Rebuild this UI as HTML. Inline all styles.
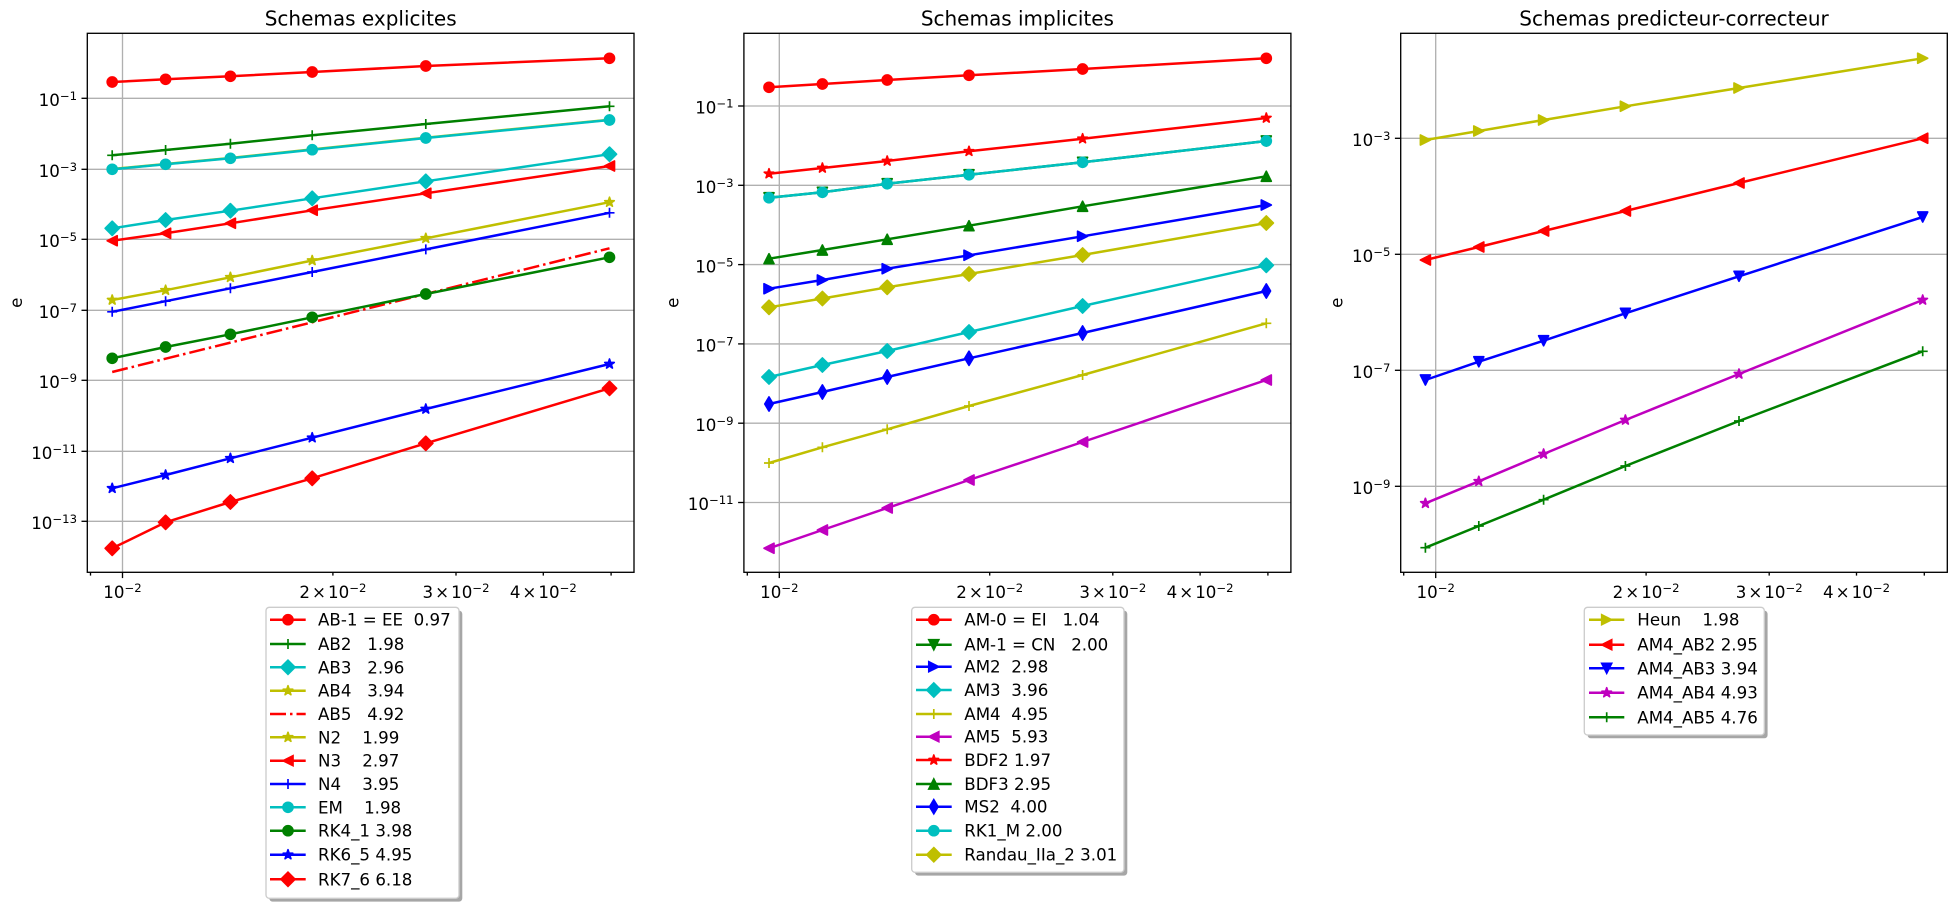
<!DOCTYPE html>
<html>
<head>
<meta charset="utf-8">
<style>
html,body{margin:0;padding:0;background:#fff;}
svg{display:block;}
text{font-family:"DejaVu Sans","Liberation Sans",sans-serif;fill:#000;}
.lg{white-space:pre;}
</style>
</head>
<body>
<svg width="1957" height="906" viewBox="0 0 1957 906" xmlns="http://www.w3.org/2000/svg">
<defs>
  <circle id="o" cx="0" cy="0" r="5"/>
  <path id="p" d="M-5,0H5M0,-5V5" fill="none"/>
  <path id="D" d="M0,-7.07L7.07,0L0,7.07L-7.07,0Z"/>
  <path id="d" d="M0,-7.07L4.24,0L0,7.07L-4.24,0Z"/>
  <path id="tu" d="M0,-5L-5,5L5,5Z"/>
  <path id="td" d="M0,5L-5,-5L5,-5Z"/>
  <path id="tl" d="M-5,0L5,-5L5,5Z"/>
  <path id="tr" d="M5,0L-5,-5L-5,5Z"/>
  <path id="st" stroke-linejoin="round" d="M0,-5L1.123,-1.545L4.755,-1.545L1.817,0.59L2.939,4.045L0,1.91L-2.939,4.045L-1.817,0.59L-4.755,-1.545L-1.123,-1.545Z"/>
</defs>
<rect x="0" y="0" width="1957" height="906" fill="#fff"/>

<!-- ================= PLOT 1 ================= -->
<g>
  <text x="360.7" y="25.3" font-size="20" text-anchor="middle">Schemas explicites</text>
  <g stroke="#b0b0b0" stroke-width="1.33">
    <line x1="87.3" x2="634" y1="98.3" y2="98.3"/>
    <line x1="87.3" x2="634" y1="169.3" y2="169.3"/>
    <line x1="87.3" x2="634" y1="239.3" y2="239.3"/>
    <line x1="87.3" x2="634" y1="310.3" y2="310.3"/>
    <line x1="87.3" x2="634" y1="380.3" y2="380.3"/>
    <line x1="87.3" x2="634" y1="451.3" y2="451.3"/>
    <line x1="87.3" x2="634" y1="521.3" y2="521.3"/>
    <line x1="122.5" x2="122.5" y1="33.3" y2="572.3"/>
  </g>
  <g fill="none" stroke-width="2.5" stroke-linejoin="round">
    <g stroke="#ff0000" fill="#ff0000"><polyline fill="none" points="112.2,82 165.6,79.3 230.4,76.3 312.2,72 425.8,66 609.5,58.3"/>
      <g stroke-width="1.67"><use href="#o" x="112.2" y="82"/><use href="#o" x="165.6" y="79.3"/><use href="#o" x="230.4" y="76.3"/><use href="#o" x="312.2" y="72"/><use href="#o" x="425.8" y="66"/><use href="#o" x="609.5" y="58.3"/></g></g>
    <g stroke="#008000" fill="#008000"><polyline fill="none" points="112.2,155.3 165.6,150 230.4,143.7 312.2,135.3 425.8,124 609.5,106.3"/>
      <g stroke-width="1.67"><use href="#p" x="112.2" y="155.3"/><use href="#p" x="165.6" y="150"/><use href="#p" x="230.4" y="143.7"/><use href="#p" x="312.2" y="135.3"/><use href="#p" x="425.8" y="124"/><use href="#p" x="609.5" y="106.3"/></g></g>
    <g stroke="#00bfbf" fill="#00bfbf"><polyline fill="none" points="112.2,228.3 165.6,220 230.4,210.7 312.2,198.3 425.8,181.3 609.5,154.2"/>
      <g stroke-width="1.67"><use href="#D" x="112.2" y="228.3"/><use href="#D" x="165.6" y="220"/><use href="#D" x="230.4" y="210.7"/><use href="#D" x="312.2" y="198.3"/><use href="#D" x="425.8" y="181.3"/><use href="#D" x="609.5" y="154.2"/></g></g>
    <g stroke="#bfbf00" fill="#bfbf00"><polyline fill="none" points="112.2,300 165.6,290.2 230.4,277.3 312.2,260.5 425.8,238.3 609.5,202.2"/>
      <g stroke-width="1.67"><use href="#st" x="112.2" y="300"/><use href="#st" x="165.6" y="290.2"/><use href="#st" x="230.4" y="277.3"/><use href="#st" x="312.2" y="260.5"/><use href="#st" x="425.8" y="238.3"/><use href="#st" x="609.5" y="202.2"/></g></g>
    <g stroke="#ff0000"><polyline fill="none" stroke-dasharray="16,4,2.5,4" stroke-linecap="butt" points="112.2,372 165.6,358.7 230.4,342.6 312.2,322.3 425.8,294 609.5,248.3"/></g>
    <g stroke="#bfbf00" fill="#bfbf00"><polyline fill="none" points="112.2,169 165.6,164 230.4,158 312.2,149.4 425.8,137.7 609.5,119.7"/>
      <g stroke-width="1.67"><use href="#st" x="112.2" y="169.3"/><use href="#st" x="165.6" y="164.3"/><use href="#st" x="230.4" y="158.3"/><use href="#st" x="312.2" y="149.7"/><use href="#st" x="425.8" y="138"/><use href="#st" x="609.5" y="120"/></g></g>
    <g stroke="#ff0000" fill="#ff0000"><polyline fill="none" points="112.2,240.7 165.6,233.3 230.4,223.3 312.2,210.3 425.8,193.3 609.5,166"/>
      <g stroke-width="1.67"><use href="#tl" x="112.2" y="240.7"/><use href="#tl" x="165.6" y="233.3"/><use href="#tl" x="230.4" y="223.3"/><use href="#tl" x="312.2" y="210.3"/><use href="#tl" x="425.8" y="193.3"/><use href="#tl" x="609.5" y="166"/></g></g>
    <g stroke="#0000ff" fill="#0000ff"><polyline fill="none" points="112.2,311.8 165.6,301.2 230.4,288.3 312.2,272 425.8,249.4 609.5,212.8"/>
      <g stroke-width="1.67"><use href="#p" x="112.2" y="311.8"/><use href="#p" x="165.6" y="301.2"/><use href="#p" x="230.4" y="288.3"/><use href="#p" x="312.2" y="272"/><use href="#p" x="425.8" y="249.4"/><use href="#p" x="609.5" y="212.8"/></g></g>
    <g stroke="#00bfbf" fill="#00bfbf"><polyline fill="none" points="112.2,169.3 165.6,164.3 230.4,158.3 312.2,149.7 425.8,138 609.5,120"/>
      <g stroke-width="1.67"><use href="#o" x="112.2" y="169.3"/><use href="#o" x="165.6" y="164.3"/><use href="#o" x="230.4" y="158.3"/><use href="#o" x="312.2" y="149.7"/><use href="#o" x="425.8" y="138"/><use href="#o" x="609.5" y="120"/></g></g>
    <g stroke="#008000" fill="#008000"><polyline fill="none" points="112.2,358.3 165.6,347 230.4,334.3 312.2,317.3 425.8,294 609.5,257.3"/>
      <g stroke-width="1.67"><use href="#o" x="112.2" y="358.3"/><use href="#o" x="165.6" y="347"/><use href="#o" x="230.4" y="334.3"/><use href="#o" x="312.2" y="317.3"/><use href="#o" x="425.8" y="294"/><use href="#o" x="609.5" y="257.3"/></g></g>
    <g stroke="#0000ff" fill="#0000ff"><polyline fill="none" points="112.2,488.3 165.6,475 230.4,458.3 312.2,437.7 425.8,409 609.5,364"/>
      <g stroke-width="1.67"><use href="#st" x="112.2" y="488.3"/><use href="#st" x="165.6" y="475"/><use href="#st" x="230.4" y="458.3"/><use href="#st" x="312.2" y="437.7"/><use href="#st" x="425.8" y="409"/><use href="#st" x="609.5" y="364"/></g></g>
    <g stroke="#ff0000" fill="#ff0000"><polyline fill="none" points="112.2,548.3 165.6,522.3 230.4,502 312.2,478.3 425.8,443.3 609.5,388.3"/>
      <g stroke-width="1.67"><use href="#D" x="112.2" y="548.3"/><use href="#D" x="165.6" y="522.3"/><use href="#D" x="230.4" y="502"/><use href="#D" x="312.2" y="478.3"/><use href="#D" x="425.8" y="443.3"/><use href="#D" x="609.5" y="388.3"/></g></g>
  </g>
  <rect x="87.3" y="33.3" width="546.7" height="539" fill="none" stroke="#000" stroke-width="1.33"/>
  <g stroke="#000" stroke-width="1.33">
    <line x1="81.5" x2="87.3" y1="98.3" y2="98.3"/><line x1="81.5" x2="87.3" y1="169.3" y2="169.3"/><line x1="81.5" x2="87.3" y1="239.3" y2="239.3"/><line x1="81.5" x2="87.3" y1="310.3" y2="310.3"/><line x1="81.5" x2="87.3" y1="380.3" y2="380.3"/><line x1="81.5" x2="87.3" y1="451.3" y2="451.3"/><line x1="81.5" x2="87.3" y1="521.3" y2="521.3"/>
    <line x1="122.5" x2="122.5" y1="572.3" y2="578.1"/>
    <line x1="90.5" x2="90.5" y1="572.3" y2="575.6"/><line x1="332.9" x2="332.9" y1="572.3" y2="575.6"/><line x1="456" x2="456" y1="572.3" y2="575.6"/><line x1="543.3" x2="543.3" y1="572.3" y2="575.6"/><line x1="611.1" x2="611.1" y1="572.3" y2="575.6"/>
  </g>
  <g font-size="16.67" text-anchor="end">
    <text x="77" y="106">10<tspan dy="-6" font-size="11.67">−1</tspan></text>
    <text x="77" y="177">10<tspan dy="-6" font-size="11.67">−3</tspan></text>
    <text x="77" y="247">10<tspan dy="-6" font-size="11.67">−5</tspan></text>
    <text x="77" y="318">10<tspan dy="-6" font-size="11.67">−7</tspan></text>
    <text x="77" y="388">10<tspan dy="-6" font-size="11.67">−9</tspan></text>
    <text x="77" y="459">10<tspan dy="-6" font-size="11.67">−11</tspan></text>
    <text x="77" y="529">10<tspan dy="-6" font-size="11.67">−13</tspan></text>
  </g>
  <g font-size="16.67" text-anchor="middle">
    <text x="122.5" y="598">10<tspan dy="-6" font-size="11.67">−2</tspan></text>
    <text x="332.9" y="598">2<tspan dx="2">×</tspan><tspan dx="2">10</tspan><tspan dy="-6" font-size="11.67">−2</tspan></text>
    <text x="456" y="598">3<tspan dx="2">×</tspan><tspan dx="2">10</tspan><tspan dy="-6" font-size="11.67">−2</tspan></text>
    <text x="543.3" y="598">4<tspan dx="2">×</tspan><tspan dx="2">10</tspan><tspan dy="-6" font-size="11.67">−2</tspan></text>
  </g>
  <text x="22" y="302.8" font-size="16.67" text-anchor="middle" transform="rotate(-90 22 302.8)">e</text>
</g>

<!-- ================= PLOT 2 ================= -->
<g>
  <text x="1017.4" y="25.3" font-size="20" text-anchor="middle">Schemas implicites</text>
  <g stroke="#b0b0b0" stroke-width="1.33">
    <line x1="743.9" x2="1290.9" y1="106" y2="106"/>
    <line x1="743.9" x2="1290.9" y1="185.3" y2="185.3"/>
    <line x1="743.9" x2="1290.9" y1="264.6" y2="264.6"/>
    <line x1="743.9" x2="1290.9" y1="343.9" y2="343.9"/>
    <line x1="743.9" x2="1290.9" y1="423.2" y2="423.2"/>
    <line x1="743.9" x2="1290.9" y1="502.5" y2="502.5"/>
    <line x1="779.3" x2="779.3" y1="33.3" y2="572.3"/>
  </g>
  <g fill="none" stroke-width="2.5" stroke-linejoin="round">
    <g stroke="#ff0000" fill="#ff0000"><polyline fill="none" points="769,87.3 822.4,84 887.2,80 969,75.3 1082.6,69 1266.3,58.3"/>
      <g stroke-width="1.67"><use href="#o" x="769" y="87.3"/><use href="#o" x="822.4" y="84"/><use href="#o" x="887.2" y="80"/><use href="#o" x="969" y="75.3"/><use href="#o" x="1082.6" y="69"/><use href="#o" x="1266.3" y="58.3"/></g></g>
    <g stroke="#008000" fill="#008000"><polyline fill="none" points="769,197.7 822.4,192.3 887.2,183.7 969,174.7 1082.6,162.3 1266.3,141"/>
      <g stroke-width="1.67"><use href="#td" x="769" y="197.7"/><use href="#td" x="822.4" y="192.3"/><use href="#td" x="887.2" y="183.7"/><use href="#td" x="969" y="174.7"/><use href="#td" x="1082.6" y="162.3"/><use href="#td" x="1266.3" y="141"/></g></g>
    <g stroke="#0000ff" fill="#0000ff"><polyline fill="none" points="769,288.7 822.4,280 887.2,268.7 969,255.3 1082.6,236.3 1266.3,205"/>
      <g stroke-width="1.67"><use href="#tr" x="769" y="288.7"/><use href="#tr" x="822.4" y="280"/><use href="#tr" x="887.2" y="268.7"/><use href="#tr" x="969" y="255.3"/><use href="#tr" x="1082.6" y="236.3"/><use href="#tr" x="1266.3" y="205"/></g></g>
    <g stroke="#00bfbf" fill="#00bfbf"><polyline fill="none" points="769,377 822.4,365 887.2,351 969,332 1082.6,306 1266.3,265.3"/>
      <g stroke-width="1.67"><use href="#D" x="769" y="377"/><use href="#D" x="822.4" y="365"/><use href="#D" x="887.2" y="351"/><use href="#D" x="969" y="332"/><use href="#D" x="1082.6" y="306"/><use href="#D" x="1266.3" y="265.3"/></g></g>
    <g stroke="#bfbf00" fill="#bfbf00"><polyline fill="none" points="769,463 822.4,447.3 887.2,429.3 969,406 1082.6,375 1266.3,323.3"/>
      <g stroke-width="1.67"><use href="#p" x="769" y="463"/><use href="#p" x="822.4" y="447.3"/><use href="#p" x="887.2" y="429.3"/><use href="#p" x="969" y="406"/><use href="#p" x="1082.6" y="375"/><use href="#p" x="1266.3" y="323.3"/></g></g>
    <g stroke="#bf00bf" fill="#bf00bf"><polyline fill="none" points="769,548.3 822.4,530 887.2,508 969,480 1082.6,442 1266.3,380"/>
      <g stroke-width="1.67"><use href="#tl" x="769" y="548.3"/><use href="#tl" x="822.4" y="530"/><use href="#tl" x="887.2" y="508"/><use href="#tl" x="969" y="480"/><use href="#tl" x="1082.6" y="442"/><use href="#tl" x="1266.3" y="380"/></g></g>
    <g stroke="#ff0000" fill="#ff0000"><polyline fill="none" points="769,173.7 822.4,168 887.2,161 969,151.3 1082.6,138.7 1266.3,118"/>
      <g stroke-width="1.67"><use href="#st" x="769" y="173.7"/><use href="#st" x="822.4" y="168"/><use href="#st" x="887.2" y="161"/><use href="#st" x="969" y="151.3"/><use href="#st" x="1082.6" y="138.7"/><use href="#st" x="1266.3" y="118"/></g></g>
    <g stroke="#008000" fill="#008000"><polyline fill="none" points="769,258.7 822.4,250 887.2,239.3 969,225.7 1082.6,206.3 1266.3,176.3"/>
      <g stroke-width="1.67"><use href="#tu" x="769" y="258.7"/><use href="#tu" x="822.4" y="250"/><use href="#tu" x="887.2" y="239.3"/><use href="#tu" x="969" y="225.7"/><use href="#tu" x="1082.6" y="206.3"/><use href="#tu" x="1266.3" y="176.3"/></g></g>
    <g stroke="#0000ff" fill="#0000ff"><polyline fill="none" points="769,404 822.4,392 887.2,377 969,358.3 1082.6,333 1266.3,291"/>
      <g stroke-width="1.67"><use href="#d" x="769" y="404"/><use href="#d" x="822.4" y="392"/><use href="#d" x="887.2" y="377"/><use href="#d" x="969" y="358.3"/><use href="#d" x="1082.6" y="333"/><use href="#d" x="1266.3" y="291"/></g></g>
    <g stroke="#00bfbf" fill="#00bfbf"><polyline fill="none" points="769,197.7 822.4,192.3 887.2,183.7 969,174.7 1082.6,162.3 1266.3,141"/>
      <g stroke-width="1.67"><use href="#o" x="769" y="197.7"/><use href="#o" x="822.4" y="192.3"/><use href="#o" x="887.2" y="183.7"/><use href="#o" x="969" y="174.7"/><use href="#o" x="1082.6" y="162.3"/><use href="#o" x="1266.3" y="141"/></g></g>
    <g stroke="#bfbf00" fill="#bfbf00"><polyline fill="none" points="769,307.3 822.4,298.5 887.2,287.3 969,274 1082.6,255 1266.3,223"/>
      <g stroke-width="1.67"><use href="#D" x="769" y="307.3"/><use href="#D" x="822.4" y="298.5"/><use href="#D" x="887.2" y="287.3"/><use href="#D" x="969" y="274"/><use href="#D" x="1082.6" y="255"/><use href="#D" x="1266.3" y="223"/></g></g>
  </g>
  <rect x="743.9" y="33.3" width="547" height="539" fill="none" stroke="#000" stroke-width="1.33"/>
  <g stroke="#000" stroke-width="1.33">
    <line x1="738.1" x2="743.9" y1="106" y2="106"/><line x1="738.1" x2="743.9" y1="185.3" y2="185.3"/><line x1="738.1" x2="743.9" y1="264.6" y2="264.6"/><line x1="738.1" x2="743.9" y1="343.9" y2="343.9"/><line x1="738.1" x2="743.9" y1="423.2" y2="423.2"/><line x1="738.1" x2="743.9" y1="502.5" y2="502.5"/>
    <line x1="779.3" x2="779.3" y1="572.3" y2="578.1"/>
    <line x1="747.3" x2="747.3" y1="572.3" y2="575.6"/><line x1="989.7" x2="989.7" y1="572.3" y2="575.6"/><line x1="1112.8" x2="1112.8" y1="572.3" y2="575.6"/><line x1="1200.1" x2="1200.1" y1="572.3" y2="575.6"/><line x1="1267.9" x2="1267.9" y1="572.3" y2="575.6"/>
  </g>
  <g font-size="16.67" text-anchor="end">
    <text x="733.6" y="113.7">10<tspan dy="-6" font-size="11.67">−1</tspan></text>
    <text x="733.6" y="193">10<tspan dy="-6" font-size="11.67">−3</tspan></text>
    <text x="733.6" y="272.3">10<tspan dy="-6" font-size="11.67">−5</tspan></text>
    <text x="733.6" y="351.6">10<tspan dy="-6" font-size="11.67">−7</tspan></text>
    <text x="733.6" y="430.9">10<tspan dy="-6" font-size="11.67">−9</tspan></text>
    <text x="733.6" y="510.2">10<tspan dy="-6" font-size="11.67">−11</tspan></text>
  </g>
  <g font-size="16.67" text-anchor="middle">
    <text x="779.3" y="598">10<tspan dy="-6" font-size="11.67">−2</tspan></text>
    <text x="989.7" y="598">2<tspan dx="2">×</tspan><tspan dx="2">10</tspan><tspan dy="-6" font-size="11.67">−2</tspan></text>
    <text x="1112.8" y="598">3<tspan dx="2">×</tspan><tspan dx="2">10</tspan><tspan dy="-6" font-size="11.67">−2</tspan></text>
    <text x="1200.1" y="598">4<tspan dx="2">×</tspan><tspan dx="2">10</tspan><tspan dy="-6" font-size="11.67">−2</tspan></text>
  </g>
  <text x="678.3" y="302.8" font-size="16.67" text-anchor="middle" transform="rotate(-90 678.3 302.8)">e</text>
</g>

<!-- ================= PLOT 3 ================= -->
<g>
  <text x="1674" y="25.3" font-size="20" text-anchor="middle">Schemas predicteur-correcteur</text>
  <g stroke="#b0b0b0" stroke-width="1.33">
    <line x1="1400.7" x2="1947.3" y1="138.3" y2="138.3"/>
    <line x1="1400.7" x2="1947.3" y1="254.3" y2="254.3"/>
    <line x1="1400.7" x2="1947.3" y1="370.3" y2="370.3"/>
    <line x1="1400.7" x2="1947.3" y1="486.3" y2="486.3"/>
    <line x1="1435.7" x2="1435.7" y1="33.3" y2="572.3"/>
  </g>
  <g fill="none" stroke-width="2.5" stroke-linejoin="round">
    <g stroke="#bfbf00" fill="#bfbf00"><polyline fill="none" points="1425.4,140 1478.8,131 1543.6,120 1625.4,106.3 1739,88 1922.7,58.3"/>
      <g stroke-width="1.67"><use href="#tr" x="1425.4" y="140"/><use href="#tr" x="1478.8" y="131"/><use href="#tr" x="1543.6" y="120"/><use href="#tr" x="1625.4" y="106.3"/><use href="#tr" x="1739" y="88"/><use href="#tr" x="1922.7" y="58.3"/></g></g>
    <g stroke="#ff0000" fill="#ff0000"><polyline fill="none" points="1425.4,260 1478.8,247 1543.6,231 1625.4,211 1739,183 1922.7,138.3"/>
      <g stroke-width="1.67"><use href="#tl" x="1425.4" y="260"/><use href="#tl" x="1478.8" y="247"/><use href="#tl" x="1543.6" y="231"/><use href="#tl" x="1625.4" y="211"/><use href="#tl" x="1739" y="183"/><use href="#tl" x="1922.7" y="138.3"/></g></g>
    <g stroke="#0000ff" fill="#0000ff"><polyline fill="none" points="1425.4,380 1478.8,361.7 1543.6,340.7 1625.4,313.3 1739,276.3 1922.7,217"/>
      <g stroke-width="1.67"><use href="#td" x="1425.4" y="380"/><use href="#td" x="1478.8" y="361.7"/><use href="#td" x="1543.6" y="340.7"/><use href="#td" x="1625.4" y="313.3"/><use href="#td" x="1739" y="276.3"/><use href="#td" x="1922.7" y="217"/></g></g>
    <g stroke="#bf00bf" fill="#bf00bf"><polyline fill="none" points="1425.4,503.3 1478.8,481.3 1543.6,454 1625.4,420 1739,374 1922.7,300"/>
      <g stroke-width="1.67"><use href="#st" x="1425.4" y="503.3"/><use href="#st" x="1478.8" y="481.3"/><use href="#st" x="1543.6" y="454"/><use href="#st" x="1625.4" y="420"/><use href="#st" x="1739" y="374"/><use href="#st" x="1922.7" y="300"/></g></g>
    <g stroke="#008000" fill="#008000"><polyline fill="none" points="1425.4,547.7 1478.8,526 1543.6,499.7 1625.4,466 1739,421 1922.7,351.3"/>
      <g stroke-width="1.67"><use href="#p" x="1425.4" y="547.7"/><use href="#p" x="1478.8" y="526"/><use href="#p" x="1543.6" y="499.7"/><use href="#p" x="1625.4" y="466"/><use href="#p" x="1739" y="421"/><use href="#p" x="1922.7" y="351.3"/></g></g>
  </g>
  <rect x="1400.7" y="33.3" width="546.6" height="539" fill="none" stroke="#000" stroke-width="1.33"/>
  <g stroke="#000" stroke-width="1.33">
    <line x1="1394.9" x2="1400.7" y1="138.3" y2="138.3"/><line x1="1394.9" x2="1400.7" y1="254.3" y2="254.3"/><line x1="1394.9" x2="1400.7" y1="370.3" y2="370.3"/><line x1="1394.9" x2="1400.7" y1="486.3" y2="486.3"/>
    <line x1="1435.7" x2="1435.7" y1="572.3" y2="578.1"/>
    <line x1="1403.7" x2="1403.7" y1="572.3" y2="575.6"/><line x1="1646.1" x2="1646.1" y1="572.3" y2="575.6"/><line x1="1769.2" x2="1769.2" y1="572.3" y2="575.6"/><line x1="1856.5" x2="1856.5" y1="572.3" y2="575.6"/><line x1="1924.3" x2="1924.3" y1="572.3" y2="575.6"/>
  </g>
  <g font-size="16.67" text-anchor="end">
    <text x="1390.4" y="146">10<tspan dy="-6" font-size="11.67">−3</tspan></text>
    <text x="1390.4" y="262">10<tspan dy="-6" font-size="11.67">−5</tspan></text>
    <text x="1390.4" y="378">10<tspan dy="-6" font-size="11.67">−7</tspan></text>
    <text x="1390.4" y="494">10<tspan dy="-6" font-size="11.67">−9</tspan></text>
  </g>
  <g font-size="16.67" text-anchor="middle">
    <text x="1435.7" y="598">10<tspan dy="-6" font-size="11.67">−2</tspan></text>
    <text x="1646.1" y="598">2<tspan dx="2">×</tspan><tspan dx="2">10</tspan><tspan dy="-6" font-size="11.67">−2</tspan></text>
    <text x="1769.2" y="598">3<tspan dx="2">×</tspan><tspan dx="2">10</tspan><tspan dy="-6" font-size="11.67">−2</tspan></text>
    <text x="1856.5" y="598">4<tspan dx="2">×</tspan><tspan dx="2">10</tspan><tspan dy="-6" font-size="11.67">−2</tspan></text>
  </g>
  <text x="1342.5" y="302.8" font-size="16.67" text-anchor="middle" transform="rotate(-90 1342.5 302.8)">e</text>
</g>

<!-- ================= LEGEND 1 ================= -->
<g>
  <rect x="269.3" y="610.6" width="193" height="291" rx="3.3" fill="#a6a6a6"/>
  <rect x="266" y="607.3" width="193" height="291" rx="3.3" fill="#fff" stroke="#cccccc" stroke-width="1.33"/>
  <g stroke-width="2.5" fill="none">
    <line x1="270" x2="305.7" y1="619.7" y2="619.7" stroke="#ff0000"/>
    <line x1="270" x2="305.7" y1="644" y2="644" stroke="#008000"/>
    <line x1="270" x2="305.7" y1="667.3" y2="667.3" stroke="#00bfbf"/>
    <line x1="270" x2="305.7" y1="690.7" y2="690.7" stroke="#bfbf00"/>
    <line x1="270" x2="305.7" y1="714" y2="714" stroke="#ff0000" stroke-dasharray="16,4,2.5,4"/>
    <line x1="270" x2="305.7" y1="737.3" y2="737.3" stroke="#bfbf00"/>
    <line x1="270" x2="305.7" y1="760.7" y2="760.7" stroke="#ff0000"/>
    <line x1="270" x2="305.7" y1="784" y2="784" stroke="#0000ff"/>
    <line x1="270" x2="305.7" y1="807.3" y2="807.3" stroke="#00bfbf"/>
    <line x1="270" x2="305.7" y1="830.7" y2="830.7" stroke="#008000"/>
    <line x1="270" x2="305.7" y1="854.7" y2="854.7" stroke="#0000ff"/>
    <line x1="270" x2="305.7" y1="879.3" y2="879.3" stroke="#ff0000"/>
  </g>
  <g stroke-width="1.67">
    <use href="#o" x="288" y="619.7" fill="#ff0000" stroke="#ff0000"/>
    <use href="#p" x="288" y="644" stroke="#008000"/>
    <use href="#D" x="288" y="667.3" fill="#00bfbf" stroke="#00bfbf"/>
    <use href="#st" x="288" y="690.7" fill="#bfbf00" stroke="#bfbf00"/>
    <use href="#st" x="288" y="737.3" fill="#bfbf00" stroke="#bfbf00"/>
    <use href="#tl" x="288" y="760.7" fill="#ff0000" stroke="#ff0000"/>
    <use href="#p" x="288" y="784" stroke="#0000ff"/>
    <use href="#o" x="288" y="807.3" fill="#00bfbf" stroke="#00bfbf"/>
    <use href="#o" x="288" y="830.7" fill="#008000" stroke="#008000"/>
    <use href="#st" x="288" y="854.7" fill="#0000ff" stroke="#0000ff"/>
    <use href="#D" x="288" y="879.3" fill="#ff0000" stroke="#ff0000"/>
  </g>
  <g font-size="16.67">
    <text class="lg" x="318" y="625.7">AB-1 = EE  0.97</text>
    <text class="lg" x="318" y="650">AB2   1.98</text>
    <text class="lg" x="318" y="673.3">AB3   2.96</text>
    <text class="lg" x="318" y="696.7">AB4   3.94</text>
    <text class="lg" x="318" y="720">AB5   4.92</text>
    <text class="lg" x="318" y="743.3">N2    1.99</text>
    <text class="lg" x="318" y="766.7">N3    2.97</text>
    <text class="lg" x="318" y="790">N4    3.95</text>
    <text class="lg" x="318" y="813.3">EM    1.98</text>
    <text class="lg" x="318" y="836.7">RK4_1 3.98</text>
    <text class="lg" x="318" y="860.7">RK6_5 4.95</text>
    <text class="lg" x="318" y="885.3">RK7_6 6.18</text>
  </g>
</g>

<!-- ================= LEGEND 2 ================= -->
<g>
  <rect x="915" y="610.6" width="212.3" height="265" rx="3.3" fill="#a6a6a6"/>
  <rect x="911.7" y="607.3" width="212.3" height="265" rx="3.3" fill="#fff" stroke="#cccccc" stroke-width="1.33"/>
  <g stroke-width="2.5" fill="none">
    <line x1="916" x2="951.7" y1="619.7" y2="619.7" stroke="#ff0000"/>
    <line x1="916" x2="951.7" y1="644.7" y2="644.7" stroke="#008000"/>
    <line x1="916" x2="951.7" y1="666.7" y2="666.7" stroke="#0000ff"/>
    <line x1="916" x2="951.7" y1="690" y2="690" stroke="#00bfbf"/>
    <line x1="916" x2="951.7" y1="714" y2="714" stroke="#bfbf00"/>
    <line x1="916" x2="951.7" y1="736.7" y2="736.7" stroke="#bf00bf"/>
    <line x1="916" x2="951.7" y1="760" y2="760" stroke="#ff0000"/>
    <line x1="916" x2="951.7" y1="784" y2="784" stroke="#008000"/>
    <line x1="916" x2="951.7" y1="806.7" y2="806.7" stroke="#0000ff"/>
    <line x1="916" x2="951.7" y1="830.7" y2="830.7" stroke="#00bfbf"/>
    <line x1="916" x2="951.7" y1="854.7" y2="854.7" stroke="#bfbf00"/>
  </g>
  <g stroke-width="1.67">
    <use href="#o" x="933.8" y="619.7" fill="#ff0000" stroke="#ff0000"/>
    <use href="#td" x="933.8" y="644.7" fill="#008000" stroke="#008000"/>
    <use href="#tr" x="933.8" y="666.7" fill="#0000ff" stroke="#0000ff"/>
    <use href="#D" x="933.8" y="690" fill="#00bfbf" stroke="#00bfbf"/>
    <use href="#p" x="933.8" y="714" stroke="#bfbf00"/>
    <use href="#tl" x="933.8" y="736.7" fill="#bf00bf" stroke="#bf00bf"/>
    <use href="#st" x="933.8" y="760" fill="#ff0000" stroke="#ff0000"/>
    <use href="#tu" x="933.8" y="784" fill="#008000" stroke="#008000"/>
    <use href="#d" x="933.8" y="806.7" fill="#0000ff" stroke="#0000ff"/>
    <use href="#o" x="933.8" y="830.7" fill="#00bfbf" stroke="#00bfbf"/>
    <use href="#D" x="933.8" y="854.7" fill="#bfbf00" stroke="#bfbf00"/>
  </g>
  <g font-size="16.67">
    <text class="lg" x="964.3" y="625.7">AM-0 = EI   1.04</text>
    <text class="lg" x="964.3" y="650.7">AM-1 = CN   2.00</text>
    <text class="lg" x="964.3" y="672.7">AM2  2.98</text>
    <text class="lg" x="964.3" y="696">AM3  3.96</text>
    <text class="lg" x="964.3" y="720">AM4  4.95</text>
    <text class="lg" x="964.3" y="742.7">AM5  5.93</text>
    <text class="lg" x="964.3" y="766">BDF2 1.97</text>
    <text class="lg" x="964.3" y="790">BDF3 2.95</text>
    <text class="lg" x="964.3" y="812.7">MS2  4.00</text>
    <text class="lg" x="964.3" y="836.7">RK1_M 2.00</text>
    <text class="lg" x="964.3" y="860.7">Randau_IIa_2 3.01</text>
  </g>
</g>

<!-- ================= LEGEND 3 ================= -->
<g>
  <rect x="1587.6" y="610.6" width="180" height="127.7" rx="3.3" fill="#a6a6a6"/>
  <rect x="1584.3" y="607.3" width="180" height="127.7" rx="3.3" fill="#fff" stroke="#cccccc" stroke-width="1.33"/>
  <g stroke-width="2.5" fill="none">
    <line x1="1589" x2="1624.3" y1="619.7" y2="619.7" stroke="#bfbf00"/>
    <line x1="1589" x2="1624.3" y1="644.7" y2="644.7" stroke="#ff0000"/>
    <line x1="1589" x2="1624.3" y1="668.3" y2="668.3" stroke="#0000ff"/>
    <line x1="1589" x2="1624.3" y1="692.7" y2="692.7" stroke="#bf00bf"/>
    <line x1="1589" x2="1624.3" y1="717.3" y2="717.3" stroke="#008000"/>
  </g>
  <g stroke-width="1.67">
    <use href="#tr" x="1606.7" y="619.7" fill="#bfbf00" stroke="#bfbf00"/>
    <use href="#tl" x="1606.7" y="644.7" fill="#ff0000" stroke="#ff0000"/>
    <use href="#td" x="1606.7" y="668.3" fill="#0000ff" stroke="#0000ff"/>
    <use href="#st" x="1606.7" y="692.7" fill="#bf00bf" stroke="#bf00bf"/>
    <use href="#p" x="1606.7" y="717.3" stroke="#008000"/>
  </g>
  <g font-size="16.67">
    <text class="lg" x="1637.3" y="625.7">Heun    1.98</text>
    <text class="lg" x="1637.3" y="650.7">AM4_AB2 2.95</text>
    <text class="lg" x="1637.3" y="674.3">AM4_AB3 3.94</text>
    <text class="lg" x="1637.3" y="698.7">AM4_AB4 4.93</text>
    <text class="lg" x="1637.3" y="723.3">AM4_AB5 4.76</text>
  </g>
</g>
</svg>
</body>
</html>
